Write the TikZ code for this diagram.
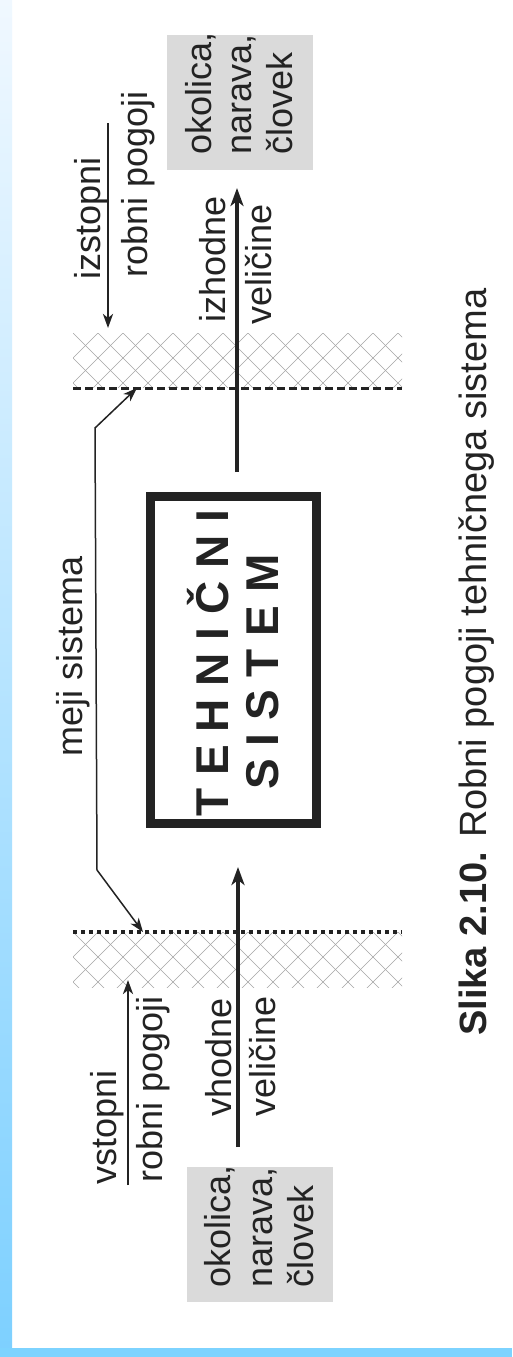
\documentclass[tikz,border=0pt]{standalone}
\usepackage{fontspec}
\setmainfont{Liberation Sans}
\usetikzlibrary{arrows.meta}
\definecolor{bluetop}{RGB}{240,248,255}
\definecolor{bluebot}{RGB}{125,208,255}
\definecolor{bluebar}{RGB}{125,211,255}
\definecolor{boxgray}{RGB}{218,218,218}
\definecolor{hatchgray}{RGB}{165,165,165}
\definecolor{ink}{RGB}{35,35,35}
\tikzset{
  lbl/.style={rotate=90, inner sep=0pt, anchor=base west, text=ink, font=\fontsize{36}{40}\selectfont},
  boxtxt/.style={rotate=90, inner sep=0pt, anchor=base, text=ink, font=\bfseries\fontsize{46}{50}\selectfont},
  bigarrow/.style={ink, line width=3.5pt, -{Stealth[length=18pt,width=13pt,inset=5pt]}},
  midarrow/.style={ink, line width=2.5pt, -{Stealth[length=14pt,width=10pt,inset=4pt]}},
  thinarrow/.style={ink, line width=1.5pt},
  hatch/.style={hatchgray, line width=0.6pt},
}
\begin{document}
\begin{tikzpicture}[x=1pt,y=-1pt]
\useasboundingbox (0,0) rectangle (512,1357);
\fill[white] (0,0) rectangle (512,1357);
% blue frame
\shade[top color=bluetop, bottom color=bluebot] (0,0) rectangle (12,1357);
\fill[bluebar] (0,1348) rectangle (512,1357);

% gray environment boxes
\fill[boxgray] (167,35) rectangle (313,170);
\fill[boxgray] (187,1167) rectangle (333,1302);
\node[lbl] (o1) at (211,155) {okolica,};
\node[lbl] (o2) at (251,155) {narava,};
\node[lbl] (o3) at (292,155) {človek};
\node[lbl] (u1) at (230,1288) {okolica,};
\node[lbl] (u2) at (272,1288) {narava,};
\node[lbl] (u3) at (313,1288) {človek};

% hatched boundary bands
\begin{scope}
\clip (73,333) rectangle (402,387);
\foreach \k in {-3,...,16} {
  \draw[hatch] ({73+25*\k},333) -- ++(60,60);
  \draw[hatch] ({73+25*\k},333) -- ++(-60,60);
}
\end{scope}
\begin{scope}
\clip (73,932) rectangle (402,987);
\foreach \k in {-3,...,16} {
  \draw[hatch] ({73+25*\k},932) -- ++(60,60);
  \draw[hatch] ({73+25*\k},932) -- ++(-60,60);
}
\end{scope}
\coordinate (dA) at (73,388);
\coordinate (dB) at (402,388);
\draw[ink, line width=3pt, dash pattern=on 8pt off 4pt] (dA) -- (dB);
\coordinate (pA) at (73,932);
\coordinate (pB) at (402,932);
\draw[ink, line width=3.5pt, dash pattern=on 3.5pt off 4.5pt] (pA) -- (pB);

% technical system
\node[draw=ink, line width=9pt, minimum width=166pt, minimum height=327pt, inner sep=0pt] (sys) at (233,659.5) {};
\node[boxtxt] (t1) at (228,663) {T E H N I Č N I};
\node[boxtxt] (t2) at (278,672) {S I S T E M};

% meji sistema
\node[lbl] (meji) at (82,757) {meji sistema};
\coordinate (tipT) at (137,388);
\coordinate (mtop) at (95,428);
\coordinate (mbot) at (97,870);
\coordinate (tipB) at (143,932);
\draw[thinarrow, {Stealth[length=14pt,width=10pt,inset=4pt]}-{Stealth[length=14pt,width=10pt,inset=4pt]}] (tipT) -- (mtop) -- (mbot) -- (tipB);

% output side
\node[lbl] (izst) at (100,280) {izstopni};
\node[lbl] (rp1) at (147,278) {robni pogoji};
\coordinate (ia) at (108,123);
\coordinate (ib) at (108,328);
\draw[midarrow] (ia) -- (ib);
\node[lbl] (izh) at (225,323) {izhodne};
\node[lbl] (vel1) at (271,325) {veličine};
\coordinate (oa) at (237,472);
\coordinate (ob) at (237,188);
\draw[bigarrow] (oa) -- (ob);

% input side
\node[lbl] (vst) at (116,1185) {vstopni};
\node[lbl] (rp2) at (162,1183) {robni pogoji};
\coordinate (va) at (128,1185);
\coordinate (vb) at (128,980);
\draw[midarrow] (va) -- (vb);
\node[lbl] (vh) at (231,1117) {vhodne};
\node[lbl] (vel2) at (275,1117) {veličine};
\coordinate (inS) at (238,1147);
\coordinate (inE) at (238,867);
\draw[bigarrow] (inS) -- (inE);

% caption
\node[rotate=90, inner sep=0pt, anchor=base west, text=ink, font=\fontsize{38}{42}\selectfont] (cap) at (486,1036) {\textbf{Slika 2.10.} Robni pogoji tehničnega sistema};
\end{tikzpicture}
\end{document}
